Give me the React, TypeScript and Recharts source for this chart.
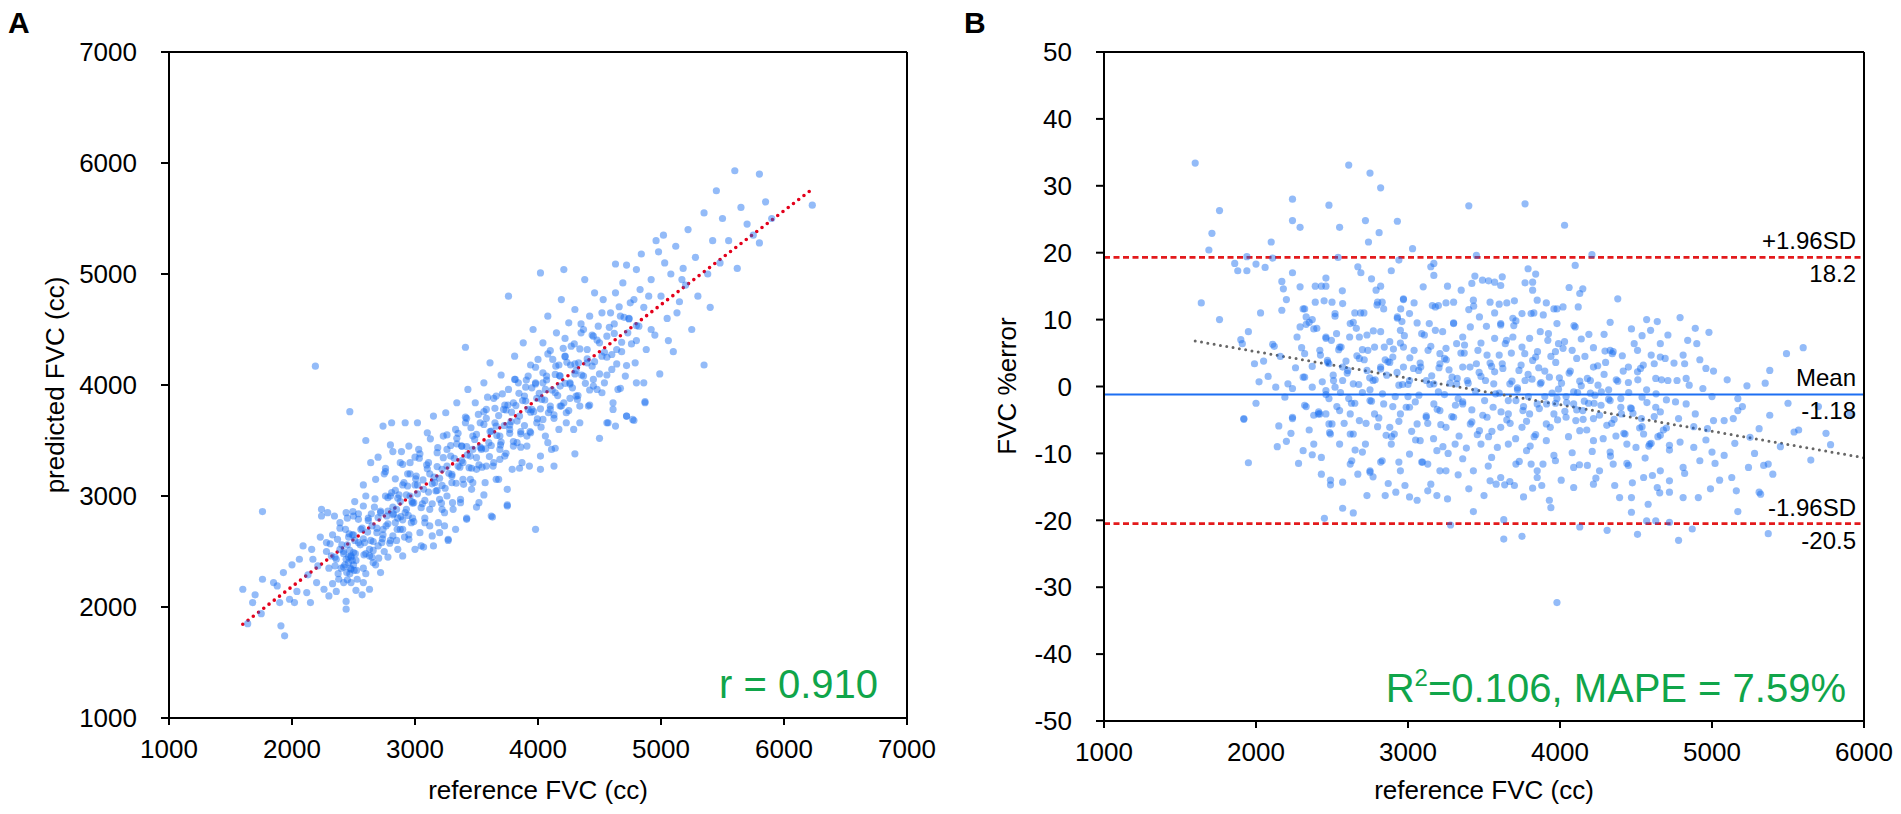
import React from 'react';
import { ScatterChart, Scatter, XAxis, YAxis, ReferenceLine } from 'recharts';

const FONT = '"Liberation Sans", Arial, Helvetica, sans-serif';

// Panel A: reference FVC (cc) vs predicted FVC (cc)
const fvcA: [number, number][] = [
  [1600, 2160], [1640, 1850], [1680, 2040], [1700, 2110], [1750, 1940], [1760, 2250], [1760, 2860], [1850, 2220],
  [1880, 2190], [1900, 2040], [1910, 1830], [1940, 1740], [1930, 2310], [1980, 2070], [2020, 2040], [2000, 2380],
  [2040, 2140], [2060, 2430], [2090, 2550], [2120, 2130], [2130, 2290], [2160, 2520], [2170, 2430], [2150, 2040],
  [2190, 4170], [2200, 2220], [2210, 2370], [2230, 2630], [2240, 2820], [2240, 2880], [2290, 2850], [2260, 2160],
  [2280, 2580], [2300, 2100], [2320, 2460], [2360, 2140], [2350, 2370], [2390, 2520], [2370, 2610], [2390, 2760],
  [2420, 2220], [2440, 1980], [2440, 2850], [2460, 2400], [2480, 2340], [2480, 2460], [2500, 2820], [2490, 2650],
  [2530, 2250], [2570, 2110], [2580, 2220], [2580, 2910], [2590, 2580], [2600, 3500], [2470, 3760], [2630, 2160],
  [2630, 2520], [2650, 2730], [2660, 2400], [2680, 3150], [2690, 2670], [2720, 2850], [2720, 2310], [2730, 2580],
  [2740, 3630], [2760, 3220], [2770, 2820], [2800, 3000], [2800, 3460], [2810, 3660], [2820, 2640], [2840, 2760],
  [2850, 2880], [2860, 2520], [2880, 2700], [2890, 3400], [2900, 2460], [2910, 3120], [2920, 3660], [2930, 2880],
  [2950, 2610], [2960, 3300], [2970, 2760], [2990, 2940], [3000, 2520], [3010, 3180], [3020, 3660], [3030, 3420],
  [3040, 2670], [3050, 2550], [3070, 3060], [3080, 2760], [3100, 3570], [3110, 3300], [3120, 2880], [3140, 2640],
  [3150, 3720], [3160, 3120], [3180, 3390], [3190, 2760], [3200, 2970], [3220, 3240], [3230, 3540], [3240, 2730],
  [3250, 3750], [3260, 3000], [3270, 2610], [3290, 3360], [3300, 3120], [3310, 2880], [3330, 3600], [3340, 3840],
  [3350, 3270], [3370, 2940], [3380, 3450], [3390, 3150], [3410, 3660], [3420, 2800], [3430, 3960], [3450, 3360],
  [3460, 3060], [3470, 3540], [3490, 3840], [3500, 3240], [3520, 2940], [3530, 3660], [3540, 3420], [3560, 4020],
  [3570, 3120], [3580, 3780], [3600, 3480], [3610, 4200], [3620, 2820], [3640, 3300], [3650, 3660], [3660, 3900],
  [3680, 3150], [3690, 3540], [3700, 4090], [3720, 3780], [3730, 3360], [3750, 2920], [3760, 3960], [3770, 3600],
  [3790, 3240], [3800, 3840], [3810, 4260], [3830, 3480], [3840, 4020], [3850, 3720], [3870, 3300], [3880, 4380],
  [3890, 3900], [3910, 3540], [3920, 4080], [3930, 3270], [3950, 3780], [3960, 4500], [3980, 2700], [3980, 4020],
  [3990, 3660], [4000, 4230], [4020, 3360], [4030, 3870], [4040, 4380], [4060, 3540], [4070, 4080], [4080, 4620],
  [4100, 3780], [4110, 3420], [4120, 4230], [4140, 3930], [4150, 4470], [4170, 3600], [4180, 4080], [4190, 4770],
  [4210, 3840], [4220, 4260], [4230, 3660], [4250, 4560], [4260, 4020], [4270, 4350], [4290, 3600], [4300, 4680],
  [4310, 3900], [4330, 4200], [4340, 3810], [4350, 4470], [4370, 4080], [4380, 4950], [4400, 4320], [4410, 3810],
  [4420, 4620], [4440, 4170], [4450, 4440], [4460, 4830], [4480, 3960], [4490, 4530], [4500, 3520], [4520, 4260],
  [4530, 4770], [4540, 4020], [4560, 4440], [4570, 3660], [4590, 4650], [4600, 4140], [4610, 3780], [4630, 4830],
  [4640, 4320], [4650, 3960], [4670, 4620], [4690, 4920], [4710, 4080], [4720, 3720], [4730, 4470], [4750, 4740],
  [4770, 3690], [4790, 4200], [4800, 5040], [4820, 4530], [4830, 4860], [4860, 4020], [4870, 3850], [4880, 4320],
  [4900, 4800],
  [3410, 4340], [3760, 4800], [4020, 5010], [4210, 5040], [4630, 5090], [4720, 5080], [4840, 5180],
  [4870, 3840], [4780, 3680], [4720, 3720], [4630, 3630], [4560, 3660], [4610, 3840], [4520, 3930], [4420, 3820],
  [4340, 3660], [4300, 3380], [4230, 3750], [4130, 3270], [4140, 3430], [4080, 3480], [4020, 3240], [3910, 3450],
  [3850, 3250], [3750, 2910], [3630, 2810], [3750, 3060], [3660, 3150], [3560, 3010], [3500, 2900], [3420, 2790],
  [3330, 2700], [3270, 2600], [3200, 2670], [3150, 2550], [3070, 2540], [3120, 2730], [3240, 2850], [3370, 2970],
  [3450, 3150], [3580, 3270], [3690, 3330], [3800, 3450], [3940, 3570], [4040, 3690], [4180, 3810], [4320, 3870],
  [4450, 3990], [4670, 3970], [4800, 4020],
  [4950, 4450], [4980, 5200], [5000, 4800], [5020, 5350], [5050, 4600], [5080, 5000], [5100, 4300], [5120, 5250],
  [5150, 4750], [5180, 5050], [5200, 4900], [5220, 5400], [5250, 4500], [5280, 5150], [5300, 4800], [5350, 4180],
  [5350, 5550], [5380, 5000], [5400, 4700], [5420, 5300], [5450, 5750], [5480, 5100], [5500, 5500], [5550, 5300],
  [5600, 5930], [5620, 5050], [5650, 5600], [5700, 5450], [5750, 5350], [5800, 5900], [5800, 5280], [5850, 5650],
  [5900, 5500], [6230, 5620], [4920, 4950], [4990, 4100], [5060, 4400], [5130, 4650], [5170, 4950], [5030, 5100],
  [4960, 5300],
  [2400, 2350], [2420, 2480], [2450, 2560], [2470, 2300], [2500, 2650], [2520, 2420], [2540, 2580], [2560, 2700],
  [2580, 2350], [2600, 2480], [2620, 2780], [2640, 2600], [2650, 2450], [2670, 2900], [2700, 2550], [2740, 2650],
  [2760, 3000], [2780, 2750], [2800, 2600], [2820, 2900], [2840, 3050], [2860, 2800], [2880, 2950], [2900, 3100],
  [2920, 2850], [2940, 3200], [2960, 3000], [2980, 2800], [2350, 2450], [2380, 2250], [2300, 2350], [2280, 2500],
  [2330, 2650], [2450, 2800], [2510, 2950], [2580, 3100], [2640, 3300], [2700, 3350], [2760, 3250], [2820, 3400],
  [2880, 3300], [2950, 3450], [3000, 3350], [2780, 2450], [2850, 2600], [2900, 2700], [2950, 2650], [2480, 2220],
  [2520, 2150], [2440, 2050], [2600, 2300], [2680, 2380], [2750, 2500],
  [3300, 3180], [3340, 3520], [3390, 3300], [3420, 3700], [3470, 3420], [3520, 3280], [3560, 3760], [3610, 3580],
  [3640, 3880], [3690, 3420], [3730, 3820], [3770, 3640], [3810, 4050], [3860, 3560], [3900, 3980], [3940, 4180],
  [3990, 3880], [4040, 4020], [4080, 4280], [4130, 3700], [4170, 4180], [4220, 4420], [4260, 3880], [4300, 4100],
  [4350, 4550], [4400, 4200], [4450, 4050], [4500, 4380], [4560, 4250], [4620, 4550], [4680, 4300], [4740, 4600],
  [4800, 4400], [4860, 4700], [4920, 4500], [3180, 3050], [3220, 2880], [3260, 3420], [3120, 3200], [3080, 2960],
  [3040, 3380], [3000, 3100],
  // denser core of the cloud
  [2310, 2570], [2330, 2210], [2345, 2820], [2360, 2430], [2375, 2300], [2390, 2710], [2405, 2560], [2420, 2360],
  [2435, 2700], [2450, 2245], [2465, 2660], [2480, 2450], [2495, 2860], [2510, 2600], [2525, 2330], [2540, 2790],
  [2555, 2560], [2570, 2710], [2585, 2470], [2600, 3000], [2615, 2675], [2630, 2460], [2645, 2840], [2660, 2590],
  [2675, 2975], [2690, 2710], [2705, 2440], [2720, 2865], [2735, 2615], [2750, 3200], [2765, 2730], [2780, 2865],
  [2795, 2575], [2810, 3030], [2825, 2840], [2840, 3155], [2855, 2700], [2870, 3010], [2885, 2815], [2900, 3285],
  [2915, 2630], [2930, 3010], [2945, 2825], [2960, 3200], [2975, 2950], [2990, 2770], [3005, 3155], [3020, 3020],
  [3035, 3340], [3050, 2895], [3065, 3145], [3080, 2800], [3095, 3280], [3110, 3035], [3125, 3515], [3140, 2930],
  [3155, 3170], [3170, 3045], [3185, 3435], [3200, 3160], [3215, 2935], [3230, 3345], [3245, 3070], [3260, 3550],
  [3275, 3205], [3290, 3455], [3305, 2940], [3320, 3340], [3335, 3115], [3350, 3565], [3365, 3260], [3380, 3450],
  [3395, 3105], [3410, 3710], [3425, 3370], [3440, 3255], [3455, 3615], [3470, 3120], [3485, 3510], [3500, 3345],
  [3515, 3735], [3530, 3440], [3545, 3260], [3560, 3645], [3575, 3425], [3590, 3890], [3605, 3355], [3620, 3585],
  [3635, 3270], [3650, 3790], [3665, 3545], [3680, 3725], [3695, 3460], [3710, 3920], [3725, 3635], [3740, 3385],
  [3755, 3820], [3770, 3565], [3785, 3755], [3800, 3490], [3815, 4050], [3830, 3675], [3845, 3925], [3860, 3440],
  [3875, 3860], [3890, 3635], [3905, 4045], [3920, 3780], [3935, 3580], [3950, 3975], [3965, 3760], [3980, 4160],
  [3995, 3695], [4010, 3925], [4025, 3620], [4040, 4110], [4055, 3865], [4070, 4045], [4085, 3750], [4100, 4310],
  [4115, 3955], [4130, 3730], [4145, 4170], [4160, 3905], [4175, 4085], [4190, 3810], [4205, 4330], [4220, 4015],
  [4235, 4205], [4250, 3770], [4265, 4180], [4280, 3975], [4295, 4370], [4310, 4130], [4325, 3905], [4340, 4325],
  [4355, 4090], [4370, 4500], [4385, 4015], [4400, 4235], [4420, 3955], [4440, 4450], [4460, 4210], [4480, 4405],
  [4500, 4100], [4520, 4650], [4540, 4295], [4560, 4090], [4580, 4520], [4600, 4275], [4620, 4465], [4640, 4190],
  [4660, 4705], [4680, 4385], [4700, 4610], [4720, 4175], [4740, 4595], [4760, 4370], [4780, 4770], [4800, 4535],
  [2420, 2500], [2460, 2630], [2500, 2490], [2540, 2840], [2580, 2615], [2620, 2800], [2660, 2510], [2700, 2805],
  [2740, 2700], [2780, 2985], [2820, 2830], [2860, 2980], [2900, 2785], [2940, 3090], [2980, 2935], [3020, 3100],
  [3060, 2930], [3100, 3245], [3140, 3110], [3180, 3265], [3220, 3095], [3260, 3270], [3300, 3195], [3340, 3470],
  [3380, 3320], [3420, 3445], [3460, 3250], [3500, 3555], [3540, 3430], [3580, 3700], [3620, 3455], [3660, 3630],
  [3700, 3485], [3740, 3775], [3780, 3670], [3820, 3815], [3860, 3580], [3900, 3855], [3940, 3755], [3980, 4010],
  [4020, 3785], [4060, 3960], [4100, 3810], [4140, 4095], [4180, 3990], [4220, 4255], [4260, 4010], [4300, 4190],
  [2430, 2380], [2445, 2310], [2460, 2450], [2475, 2350], [2490, 2420], [2505, 2330], [2515, 2480], [2440, 2430],
  [2500, 2380], [2470, 2510],
];

// Panel B: reference FVC (cc) vs FVC %error
const fvcB: [number, number][] = [
  [1600, 33.4], [1640, 12.5], [1690, 20.4], [1710, 22.9], [1760, 26.3], [1760, 10.0], [1860, 18.4], [1880, 17.3],
  [1940, 17.3], [1940, 19.4], [2000, 18.3], [2060, 17.8], [2100, 21.6], [2110, 19.2], [1900, 7.0], [1910, 6.4],
  [1990, 3.4], [2050, 3.8], [2020, 0.7], [2110, 6.3], [2170, 15.7], [2180, 14.6], [2170, 11.4], [2240, 28.0],
  [2240, 24.8], [2290, 23.8], [2240, 17.0], [2290, 14.9], [2310, 11.6], [2290, 8.9], [2330, 9.3], [2350, 9.6],
  [2370, 10.0], [2390, 15.0], [2430, 15.0], [2460, 15.0], [2460, 16.2], [2480, 27.1], [2550, 23.8], [2540, 19.3],
  [2610, 33.1], [2720, 24.8], [2750, 31.9], [2740, 21.6], [2820, 29.7], [2810, 23.0], [2930, 24.7], [2940, 18.9],
  [2890, 17.3], [3030, 20.6], [2670, 17.9], [2690, 17.0], [2760, 16.1], [2820, 15.0], [2790, 14.4], [2830, 12.6],
  [2970, 13.0], [3040, 12.5], [3100, 14.9], [3150, 17.9], [3170, 18.4], [3170, 16.6], [3260, 15.0], [3350, 14.4],
  [3400, 27.0], [3450, 19.6], [3440, 16.5], [3490, 15.9], [3530, 15.8], [3570, 15.6], [3610, 15.1], [3620, 16.4],
  [3770, 27.3], [3790, 17.6], [3840, 16.8], [3770, 15.5], [3820, 15.6], [3820, 14.4], [3420, 15.4], [3980, 11.6],
  [2120, 6.0], [2210, 0.4], [2310, 1.4], [2240, -0.3], [2130, -0.1], [2270, 7.4], [2380, 8.6], [2460, 7.2],
  [1920, -4.8], [2240, -4.8], [2330, -3.0], [2410, -4.1], [2480, -1.8], [2520, -0.1], [2460, -0.6], [2320, 4.9],
  [2420, 5.4], [2470, 3.9], [2550, 5.9], [2570, 2.9], [2190, -1.6],
  [1920, -4.9], [1950, -11.4], [2150, -5.9], [2200, -8.2], [2240, -4.6], [2310, -9.6], [2370, -10.2], [2430, -13.1],
  [2490, -14.7], [2570, -18.2], [2640, -18.9], [2450, -19.7], [2570, -14.3], [2730, -16.3], [2850, -16.3], [2920, -15.8],
  [3010, -16.5], [3060, -17.0], [3130, -15.6], [3190, -16.3], [3260, -16.8], [3280, -20.7], [3430, -18.7], [3500, -16.3],
  [3630, -19.9], [3630, -22.8], [3750, -22.4], [3760, -16.5], [3980, -32.3], [3930, -17.0], [3940, -18.1], [3880, -14.8],
  [3820, -15.2], [3700, -14.8], [3580, -14.6], [3400, -15.3], [3150, -14.6], [2980, -14.8], [2870, -14.5], [2770, -13.5],
  [2670, -13.1], [2490, -14.0], [2630, -11.1], [2750, -12.8], [2820, -11.3], [2940, -11.3], [3090, -11.3], [3210, -12.6],
  [3330, -13.2], [3540, -14.1], [3670, -14.2], [3810, -11.6], [3850, -13.6],
  [2320, -2.8], [2420, -4.1], [2480, -5.6], [2550, -3.6], [2620, -7.1], [2680, -5.1], [2720, -8.6],
  [2320, 11.6], [2390, 12.6], [2500, 12.6], [2570, 12.4], [2650, 11.0], [2710, 11.0], [2800, 12.6], [2840, 11.6],
  [2970, 13.1], [3160, 12.1], [3250, 12.5], [3300, 12.6], [3400, 11.5], [3430, 12.9], [3540, 12.6], [3600, 12.3],
  [3650, 12.5], [3700, 12.8], [3850, 12.9], [3910, 12.5], [3960, 11.6], [2330, 10.4], [2520, 10.5], [2930, 10.2],
  [2960, 9.7], [3010, 10.9], [3200, 12.1], [3300, 9.4], [3470, 10.4], [3570, 11.0], [3610, 9.4], [3690, 10.2],
  [3750, 10.9], [3710, 9.8], [3810, 10.9], [3890, 10.7], [3980, 9.4],
  [2460, 7.4], [2530, 7.9], [2560, 5.9], [2620, 9.4], [2660, 8.7], [2680, 7.4], [2730, 7.7], [2780, 5.9],
  [2820, 8.2], [2880, 6.7], [2930, 10.4], [2950, 8.4], [2970, 5.9], [3040, 5.4], [3090, 7.9], [3140, 9.4],
  [3180, 8.4], [3210, 4.9], [3250, 5.7], [3320, 6.4], [3360, 7.4], [3410, 8.9], [3460, 5.4], [3520, 4.7],
  [3570, 7.2], [3610, 9.2], [3640, 6.4], [3690, 7.4], [3750, 5.9], [3800, 7.2], [3840, 4.4], [3870, 8.2],
  [3920, 6.9], [3970, 5.2], [3990, 6.4],
  [2320, 1.4], [2370, -0.1], [2480, 3.4], [2510, 0.9], [2570, 0.9], [2640, 0.4], [2680, 4.2], [2730, 2.4],
  [2770, 0.9], [2820, 2.9], [2860, 1.7], [2900, 4.4], [2940, 0.2], [2970, 2.9], [3010, 0.9], [3070, 2.4],
  [3120, 0.9], [3170, 0.4], [3210, 3.4], [3240, 4.2], [3290, 1.4], [3320, 0.4], [3360, 2.9], [3390, 0.9],
  [3450, 3.4], [3510, 0.9], [3570, 2.2], [3620, 3.4], [3670, 0.4], [3730, 2.4], [3770, 0.9], [3820, 3.9],
  [3870, 0.4], [3930, 1.4], [3990, -0.4],
  [2380, -4.3], [2460, -4.1], [2500, -5.6], [2490, -7.1], [2620, -4.1], [2610, -1.8], [2640, -7.1], [2750, -2.1],
  [2780, -4.1], [2840, -2.6], [2880, -6.1], [2910, -7.1], [2950, -4.1], [3010, -3.1], [3060, -5.6], [3120, -4.6],
  [3170, -2.6], [3210, -3.6], [3250, -6.1], [3300, -4.6], [3360, -2.6], [3410, -5.6], [3470, -6.6], [3520, -4.6],
  [3560, -3.1], [3610, -6.1], [3660, -4.1], [3710, -2.1], [3750, -6.1], [3800, -4.1], [3850, -2.6], [3910, -5.6],
  [3960, -4.1], [3980, -1.8],
  [2380, -8.6], [2430, -10.6], [2550, -8.6], [2620, -11.6], [2700, -9.8], [2750, -12.6], [2830, -11.1], [2890, -8.6],
  [2950, -12.6], [3010, -10.1], [3080, -8.1], [3130, -11.6], [3190, -9.6], [3250, -12.6], [3310, -8.6], [3360, -10.8],
  [3430, -12.6], [3480, -8.6], [3550, -10.6], [3610, -13.6], [3660, -8.6], [3710, -11.6], [3780, -9.6], [3850, -12.6],
  [3910, -8.1], [3970, -11.1],
  [4030, 24.1], [4210, 19.7], [4100, 18.1], [4060, 14.8], [4130, 13.9], [4150, 14.6], [4020, 11.9], [4120, 11.9],
  [4380, 13.1], [4100, 8.9], [4330, 9.6], [4470, 8.6], [4570, 10.0], [4640, 9.7], [4540, 7.6], [4790, 10.3],
  [4890, 8.7], [4900, 6.4], [4980, 8.1], [4840, 6.9], [4710, 7.7], [4660, 6.4], [4290, 7.8], [4190, 7.8],
  [4140, 7.1], [4030, 6.7], [4080, 5.4], [4220, 5.8], [4330, 5.4], [4350, 5.2], [4410, 4.6], [4510, 5.4],
  [4600, 4.7], [4660, 4.4], [4810, 4.7], [4820, 3.4], [4960, 2.7], [5010, 2.3], [5230, 0.1], [5380, 2.4],
  [5490, 4.9], [5600, 5.8], [4110, 4.2], [4220, 2.9], [4290, 1.8], [4450, 2.9], [4530, 2.7], [4620, 3.4],
  [4710, 0.9], [4770, 0.9], [4830, 1.2], [4940, -0.3], [5170, -1.8], [5170, -3.6], [5140, -4.8], [5080, -5.1],
  [5010, -5.1], [4970, -6.3], [4890, -4.1], [4830, -2.6], [4760, -2.3], [4700, -2.0], [4630, -3.1], [4540, -1.6],
  [4470, -3.3], [4400, -3.1], [4330, -2.1], [4230, -1.3], [4150, -3.6], [4090, -2.6], [4040, -4.6], [4130, -6.6],
  [4220, -8.1], [4330, -9.8], [4440, -8.6], [4550, -7.1], [4590, -8.6], [4660, -7.3], [4720, -8.8], [4790, -8.3],
  [4880, -9.1], [5000, -9.8], [5080, -10.3], [5130, -13.6], [5240, -12.1], [5310, -15.8], [5340, -11.8], [5370, -11.6],
  [5400, -13.1], [5540, -6.8], [5570, -6.5], [5750, -7.0], [5780, -8.7], [5910, -4.1], [5380, -4.3], [5310, -6.3],
  [5250, -7.6], [5020, -11.5], [4920, -11.1], [4810, -12.1], [4720, -14.1], [4660, -12.6], [4550, -13.6], [4450, -11.8],
  [4350, -11.6], [4260, -12.6], [4180, -11.8], [4090, -12.1], [4090, -15.1], [4220, -14.6], [4360, -14.8], [4470, -16.6],
  [4580, -17.6], [4640, -15.1], [4720, -15.8], [4810, -16.6], [4910, -16.6], [4990, -15.3], [5160, -15.6], [4470, -18.8],
  [4570, -20.1], [4630, -20.1], [4720, -20.3], [4870, -21.3], [4780, -23.0], [4510, -22.1], [4310, -21.5], [4130, -21.0],
  [5370, -22.0], [5170, -18.7], [5320, -16.1],
  [2600, 2.0], [2650, -2.5], [2700, 5.5], [2750, -0.5], [2800, -6.0], [2850, 4.0], [2900, -3.0], [2950, 6.5],
  [3000, -1.5], [3050, -8.0], [3080, 3.5], [3130, -5.5], [3150, 6.0], [3200, -0.8], [3230, -9.0], [3270, 2.5],
  [3330, -1.8], [3370, 5.0], [3420, -3.5], [3480, 1.5], [3530, -7.5], [3550, 3.0], [3600, -1.0], [3650, -5.0],
  [3680, 5.0], [3720, -0.2], [3760, -3.0], [3790, 1.8], [3830, -7.5], [3860, 2.8], [3900, -1.5], [3940, 4.5],
  [3970, -2.5], [4010, 0.5], [4040, -1.5], [4060, 2.0], [4090, -0.8], [4110, -3.5], [4130, 0.8], [4160, -2.2],
  [4180, 1.2], [4200, -1.0], [4220, -4.8], [4250, 0.2], [4270, -2.8], [4300, 3.6], [4320, -0.5], [4340, -5.5],
  [4370, 1.0], [4400, -1.8], [4420, -7.0], [4450, 0.6], [4480, -4.0], [4510, 2.2], [4540, -6.0], [4570, -0.5],
  [4600, -8.5], [4630, 1.2], [4660, -3.8], [4700, -6.2],
  // denser core of the cloud
  [2400, 8.7], [2412, -3.8], [2424, 4.7], [2436, 0.7], [2448, 12.8], [2460, -1.2], [2472, 3.6], [2484, -6.9],
  [2496, 6.9], [2508, 1.7], [2520, 10.9], [2532, -3.0], [2544, 5.5], [2556, -0.9], [2568, 14.3], [2580, -5.5],
  [2592, 3.8], [2604, 2.4], [2616, 7.4], [2628, -2.5], [2640, 9.6], [2652, -9.5], [2664, 4.6], [2676, 0.3],
  [2688, 11.0], [2700, -0.9], [2712, 4.0], [2724, -5.5], [2736, 5.4], [2748, 1.3], [2760, -2.2], [2772, 8.3],
  [2784, 1.0], [2796, 12.2], [2808, -4.7], [2820, 2.6], [2832, -1.1], [2844, 5.9], [2856, -7.3], [2868, 3.7],
  [2880, 3.6], [2892, -7.5], [2904, 5.6], [2916, -1.5], [2928, 2.1], [2940, -5.2], [2952, 11.6], [2964, 0.3],
  [2976, 7.6], [2988, -3.1], [3000, 0.3], [3012, 4.3], [3024, -6.7], [3036, 2.7], [3048, -2.3], [3060, 9.5],
  [3072, -1.3], [3084, 2.9], [3096, -11.3], [3108, 7.7], [3120, -4.4], [3132, 5.4], [3144, 0.3], [3156, 1.6],
  [3168, -7.8], [3180, 11.9], [3192, -3.4], [3204, 2.8], [3216, -5.7], [3228, 8.2], [3240, -1.2], [3252, 4.0],
  [3264, -10.0], [3276, 0.5], [3288, -4.5], [3300, 9.5], [3312, -2.8], [3324, 1.2], [3336, -7.4], [3348, 5.0],
  [3360, -2.3], [3372, 6.2], [3384, -9.2], [3396, 0.5], [3408, 2.9], [3420, -5.3], [3432, 12.0], [3444, -0.7],
  [3456, -7.2], [3468, 2.1], [3480, 6.5], [3492, -4.3], [3504, -2.1], [3516, 9.0], [3528, -11.9], [3540, 3.5],
  [3552, -6.7], [3564, 0.4], [3576, -1.1], [3588, -9.1], [3600, 4.7], [3612, -3.8], [3624, 2.7], [3636, -14.7],
  [3648, 6.9], [3660, -2.1], [3672, -5.5], [3684, 0.8], [3696, 9.1], [3708, -7.8], [3720, -0.5], [3732, -11.2],
  [3744, 3.2], [3756, -3.6], [3768, 4.9], [3780, -5.2], [3792, -1.5], [3804, -8.9], [3816, 1.1], [3828, 11.0],
  [3840, -7.2], [3852, 5.2], [3864, -3.3], [3876, 0.6], [3888, -11.6], [3900, 2.3], [3912, -2.6], [3924, 7.9],
  [3936, -6.1], [3948, -1.0], [3960, -10.3], [3972, 3.6], [3984, -5.0], [3996, 1.3], [4008, -14.0], [4020, 5.7],
  [4032, -3.7], [4044, -2.4], [4056, -7.5], [4068, 2.3], [4080, -9.9], [4092, 9.1], [4104, -5.1], [4116, -0.9],
  [4128, -11.7], [4140, 0.1], [4152, -4.9], [4164, 4.5], [4176, -6.5], [4188, -2.5], [4200, 0.9], [4212, -9.7],
  [4224, -2.5], [4236, -13.7], [4248, 3.1], [4260, -4.3], [4272, -0.8], [4284, -7.8], [4296, 5.3], [4308, -5.8],
  [4320, -1.9], [4332, -10.4], [4344, 4.9], [4356, -4.9], [4368, -7.4], [4380, 0.8], [4392, -16.6], [4404, -4.1],
  [4416, 2.3], [4428, -7.1], [4440, -11.5], [4452, -0.9], [4464, -3.2], [4476, -14.4], [4488, 6.4], [4500, -9.1],
  [4512, 1.0], [4524, -6.2], [4536, -4.8], [4548, 3.2], [4560, -10.7], [4572, -2.4], [4584, -8.9], [4596, 8.4],
  [4608, -13.3], [4620, -4.5], [4632, -1.1], [4644, -7.5], [4656, -15.9], [4668, 1.0], [4680, -6.5], [4692, 4.2],
  [1950, 8.2], [2000, -2.5], [2030, 11.0], [2080, 1.5], [2140, -9.0], [2160, 4.5], [2200, 13.0], [2230, -7.0],
  [2260, 2.8], [2280, -11.5], [2300, 5.8], [2350, -6.5], [2370, 3.0],
  [4720, -9.5], [4750, 3.5], [4780, -4.8], [4820, -13.0], [4850, 0.2], [4880, -6.0], [4920, 4.0], [4960, -8.0],
  [5000, -1.5], [5050, -14.0], [5100, 1.0], [5150, -8.5], [5200, -3.0], [5280, -10.0], [5350, 0.5], [5450, -9.0],
  [5500, -2.5], [5650, -11.0], [5700, -3.0],
];

const ticksA = [1000, 2000, 3000, 4000, 5000, 6000, 7000];
const ticksBx = [1000, 2000, 3000, 4000, 5000, 6000];
const ticksBy = [-50, -40, -30, -20, -10, 0, 10, 20, 30, 40, 50];

// regression lines
const fitA = [{ x: 1600, y: 1845 }, { x: 6230, y: 5765 }];
const fitB = [{ x: 1600, y: 6.8 }, { x: 6000, y: -10.65 }];

// Bland-Altman lines and their labels
const limitUpper = 19.3;
const limitMean = -1.18;
const limitLower = -20.5;
const upperText = ['+1.96SD', '18.2'];
const meanText = ['Mean', '-1.18'];
const lowerText = ['-1.96SD', '-20.5'];

const dotColor = '#1a6ef0';
const green = '#10a54a';

const Dot = (props: any) => (
  <circle cx={props.cx} cy={props.cy} r={3.6} fill={dotColor} fillOpacity={0.47} />
);

const axisLine = { stroke: '#000', strokeWidth: 2 };
const tickStyle = { fill: '#000', fontSize: 26, fontFamily: FONT };

function limitLabel(value: string, where: 'insideBottomRight' | 'insideTopRight') {
  return { value, position: where, offset: 8, fill: '#000', fontSize: 24, fontFamily: FONT };
}

function PanelA() {
  const data = fvcA.map(([x, y]) => ({ x, y }));
  return (
    <ScatterChart width={950} height={814} margin={{ top: 52, right: 43, bottom: 36, left: 89 }}>
      <XAxis
        type="number" dataKey="x" domain={[1000, 7000]} ticks={ticksA} interval={0}
        axisLine={axisLine} tickLine={axisLine} tickSize={7} tickMargin={15} tick={tickStyle} height={60}
      />
      <YAxis
        type="number" dataKey="y" domain={[1000, 7000]} ticks={ticksA} interval={0}
        axisLine={axisLine} tickLine={axisLine} tickSize={8} tickMargin={24} tick={tickStyle} width={80}
      />
      <Scatter data={data} shape={Dot} isAnimationActive={false} />
      <ReferenceLine segment={fitA} stroke="#e3001b" strokeWidth={3.6} strokeDasharray="0 6.6" strokeLinecap="round" />
      <ReferenceLine y={7000} stroke="#000" strokeWidth={2} />
      <ReferenceLine x={7000} stroke="#000" strokeWidth={2} />
    </ScatterChart>
  );
}

function PanelB() {
  const data = fvcB.map(([x, y]) => ({ x, y }));
  return (
    <ScatterChart width={951} height={814} margin={{ top: 52, right: 37, bottom: 33, left: 74 }}>
      <XAxis
        type="number" dataKey="x" domain={[1000, 6000]} ticks={ticksBx} interval={0}
        axisLine={axisLine} tickLine={axisLine} tickSize={7} tickMargin={15} tick={tickStyle} height={60}
      />
      <YAxis
        type="number" dataKey="y" domain={[-50, 50]} ticks={ticksBy} interval={0}
        axisLine={axisLine} tickLine={axisLine} tickSize={8} tickMargin={24} tick={tickStyle} width={80}
      />
      <Scatter data={data} shape={Dot} isAnimationActive={false} />
      <ReferenceLine y={limitMean} stroke="#1d6ff2" strokeWidth={2} label={limitLabel(meanText[0], 'insideBottomRight')} />
      <ReferenceLine y={limitMean} stroke="none" label={limitLabel(meanText[1], 'insideTopRight')} />
      <ReferenceLine y={limitUpper} stroke="#e31a1c" strokeWidth={2.6} strokeDasharray="6 3.5" label={limitLabel(upperText[0], 'insideBottomRight')} />
      <ReferenceLine y={limitUpper} stroke="none" label={limitLabel(upperText[1], 'insideTopRight')} />
      <ReferenceLine y={limitLower} stroke="#e31a1c" strokeWidth={2.6} strokeDasharray="6 3.5" label={limitLabel(lowerText[0], 'insideBottomRight')} />
      <ReferenceLine y={limitLower} stroke="none" label={limitLabel(lowerText[1], 'insideTopRight')} />
      <ReferenceLine segment={fitB} stroke="#666" strokeWidth={3} strokeDasharray="0 6.4" strokeLinecap="round" />
      <ReferenceLine y={50} stroke="#000" strokeWidth={2} />
      <ReferenceLine x={6000} stroke="#000" strokeWidth={2} />
    </ScatterChart>
  );
}

export default function App() {
  return (
    <div style={{ position: 'absolute', left: 0, top: 0, width: 1901, height: 814, background: '#fff', overflow: 'hidden' }}>
      <div style={{ position: 'absolute', left: 0, top: 0 }}>
        <PanelA />
      </div>
      <div style={{ position: 'absolute', left: 950, top: 0 }}>
        <PanelB />
      </div>
      {/* panel letters, axis titles and statistics */}
      <svg width={1901} height={814} style={{ position: 'absolute', left: 0, top: 0, pointerEvents: 'none' }} fontFamily={FONT}>
        <text x={8} y={33} fontSize={30} fontWeight="bold" fill="#000">A</text>
        <text x={964} y={33} fontSize={30} fontWeight="bold" fill="#000">B</text>
        <text x={538} y={799} fontSize={26} textAnchor="middle" fill="#000">reference FVC (cc)</text>
        <text x={1484} y={799} fontSize={26} textAnchor="middle" fill="#000">reference FVC (cc)</text>
        <text transform="translate(64,385) rotate(-90)" fontSize={26} textAnchor="middle" fill="#000">predicted FVC (cc)</text>
        <text transform="translate(1016,386) rotate(-90)" fontSize={26} textAnchor="middle" fill="#000">FVC %error</text>
        <text x={878} y={698} fontSize={40} textAnchor="end" fill={green}>r = 0.910</text>
        <text x={1846} y={702} fontSize={40} textAnchor="end" fill={green}>
          R<tspan fontSize={24} dy={-16}>2</tspan><tspan dy={16}>=0.106, MAPE = 7.59%</tspan>
        </text>
      </svg>
    </div>
  );
}
